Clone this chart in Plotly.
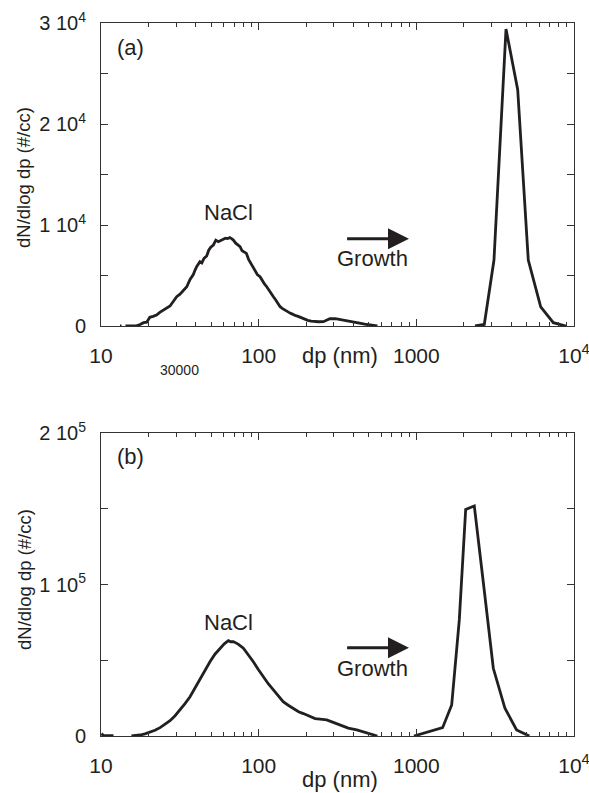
import math
import plotly.graph_objects as go

# ---------------- data ----------------
# Panel (a): NaCl mode (dp in nm, dN/dlog dp in #/cc); None = gap in record
a_nacl_dp = [13.2, 13.5, None, 14.3, 15.5, 16.8, 17.7, 18.6, 19.5, 20.4, 21.4, 22.5, 23.6, 24.8, 26.0,
             27.4, 28.8, 30.2, 31.7, 33.3, 35.0, 36.7, 38.5, 39.5, 40.5, 42.4, 43.6, 45.0, 46.8,
             48.2, 49.7, 51.6, 53.5, 55.5, 57.5, 59.5, 61.5, 63.5, 65.5, 67.3, 69.1, 71.5, 73.8,
             76.2, 78.5, 81.0, 83.6, 86.3, 89.0, 92.5, 95.0, 98.0, 102, 105, 108.5, 112.5, 116,
             120, 124, 128, 132, 136.8, 141, 145.5, 150.8, 155.5, 160, 166, 172, 178, 183, 190,
             197, 205, 215, 227, 240, 257, 270, 283, 306, 330, 360, 390, 419, 470, 520, 566]
a_nacl_n = [0, 0, None, 0, 0, 20, 150, 330, 380, 860, 950, 1090, 1350, 1580, 1750,
            1980, 2450, 2900, 3150, 3500, 3890, 4600, 5100, 5540, 5900, 6370, 6250, 6700, 6930,
            7500, 7800, 8020, 8500, 8350, 8450, 8550, 8700, 8650, 8750, 8650, 8510, 8200, 8000,
            7850, 7450, 7300, 7190, 6600, 6200, 5710, 5500, 5100, 4880, 4500, 4200, 3890, 3550,
            3200, 2900, 2600, 2300, 1910, 1750, 1600, 1420, 1350, 1250, 1090, 1020, 950, 860, 780,
            650, 560, 480, 430, 420, 430, 600, 720, 720, 640, 520, 420, 330, 180, 80, 0]
# Panel (a): grown droplet mode
a_grow_dp = [2356, 2698, 3108, 3705, 4395, 5129, 6150, 7393, 8896]
a_grow_n = [0, 150, 6530, 29400, 23400, 6530, 1900, 330, 0]

# Panel (b): NaCl mode
b_nacl_dp = [10.05, 10.4, 11.0, 12.0, None, 15.6, 16.5, 17.7, 19.0, 20.4, 22.0, 23.7, 25.5, 27.4,
             29.5, 31.7, 34.1, 36.7, 39.5, 42.4, 45.6, 49.1, 52.8, 56.8, 60.5, 64.3, 66.5, 69.1,
             74.5, 80.0, 86.0, 92.5, 99.5, 107, 115, 124, 133, 143, 154, 166, 179, 192, 211, 228,
             245, 270, 300, 327, 370, 419, 490, 566]
b_nacl_n = [1500, 300, 200, 200, None, 0, 200, 660, 1400, 2400, 3800, 5500, 7600, 10100,
            13400, 17200, 21400, 25900, 31800, 38100, 43400, 49000, 54000, 57900, 60800, 62900, 62200, 62300,
            60500, 57900, 53800, 49000, 43900, 39100, 34500, 30400, 26300, 22600, 20300, 18300, 16000, 14800, 12800, 11500,
            11200, 10600, 8800, 7300, 5200, 4000, 2000, 0]
# Panel (b): grown droplet mode
b_grow_dp = [966, 1468, 1676, 1873, 2056, 2332, 2680, 3078, 3648, 4325, 5208]
b_grow_n = [0, 5500, 20500, 76600, 149600, 151800, 98500, 44700, 18300, 4000, 0]

# tick labels
x_tickvals = [10, 100, 1000, 10000]
x_ticktext = ["10", "100", "1000", "10<sup>4</sup>"]
x_minor = [m * d for d in (10, 100, 1000) for m in range(2, 10)]
ya_tickvals = [0, 5000, 10000, 15000, 20000, 25000, 30000]
ya_ticktext = ["0", "", "1 10<sup>4</sup>", "", "2 10<sup>4</sup>", "", "3 10<sup>4</sup>"]
yb_tickvals = [0, 50000, 100000, 150000, 200000]
yb_ticktext = ["0", "", "1 10<sup>5</sup>", "", "2 10<sup>5</sup>"]

# ---------------- figure ----------------
W, H = 589, 793
ML, MR, MT, MB = 101, 15, 23, 57
LINE = "#231f20"
FONT = "Liberation Sans, Arial, sans-serif"

fig = go.Figure()
fig.add_trace(go.Scatter(x=a_nacl_dp, y=a_nacl_n, mode="lines", line=dict(color=LINE, width=2.8),
                         xaxis="x", yaxis="y", connectgaps=False))
fig.add_trace(go.Scatter(x=a_grow_dp, y=a_grow_n, mode="lines", line=dict(color=LINE, width=2.8),
                         xaxis="x", yaxis="y"))
fig.add_trace(go.Scatter(x=b_nacl_dp, y=b_nacl_n, mode="lines", line=dict(color=LINE, width=2.8),
                         xaxis="x2", yaxis="y2", connectgaps=False))
fig.add_trace(go.Scatter(x=b_grow_dp, y=b_grow_n, mode="lines", line=dict(color=LINE, width=2.8),
                         xaxis="x2", yaxis="y2"))

XR = [math.log10(9.9995), math.log10(10000.5)]

def xax(anchor):
    return dict(type="log", range=XR, anchor=anchor, tickmode="array", automargin=False,
                tickvals=x_tickvals, ticktext=x_ticktext, ticks="inside", ticklen=7,
                tickcolor="#333", tickwidth=1, showline=True, linecolor="#333", linewidth=1,
                mirror="ticks", showgrid=False, zeroline=False, ticklabelstandoff=11,
                ticklabeloverflow="allow",
                tickfont=dict(size=21, color="#231f20", family=FONT),
                minor=dict(tickvals=x_minor, ticks="inside", ticklen=4, tickcolor="#333",
                           tickwidth=1, showgrid=False))

def yax(anchor, rng, tv, tt, dom):
    return dict(range=rng, anchor=anchor, domain=dom, tickmode="array", tickvals=tv, ticktext=tt,
                automargin=False,
                ticks="inside", ticklen=7, tickcolor="#333", tickwidth=1, showline=True,
                linecolor="#333", linewidth=1, mirror="ticks", showgrid=False, zeroline=False,
                ticklabelstandoff=10, tickfont=dict(size=20, color="#231f20", family=FONT))

ph = H - MT - MB
top_dom = [(H - MB - 326) / ph, 1.0]
bot_dom = [0.0, (H - MB - 433) / ph]

fig.update_layout(
    width=W, height=H, margin=dict(l=ML, r=MR, t=MT, b=MB, autoexpand=False),
    paper_bgcolor="white", plot_bgcolor="white", showlegend=False,
    font=dict(family=FONT, color="#231f20", size=21),
    xaxis=xax("y"), xaxis2=xax("y2"),
    yaxis=yax("x", [0, 30000], ya_tickvals, ya_ticktext, top_dom),
    yaxis2=yax("x2", [0, 200000], yb_tickvals, yb_ticktext, bot_dom),
)

def px2paper(px, py):
    return (px - ML) / (W - ML - MR), (H - MB - py) / ph

anns = []
for xr, yr, x, y, t in [("x", "y", 15.3, 27600, "(a)"), ("x", "y", 64, 11200, "NaCl"),
                        ("x", "y", 531, 6700, "Growth"),
                        ("x2", "y2", 15.3, 184400, "(b)"), ("x2", "y2", 64, 74800, "NaCl"),
                        ("x2", "y2", 531, 44700, "Growth")]:
    anns.append(dict(xref=xr, yref=yr, x=math.log10(x), y=y, text=t, showarrow=False,
                     font=dict(size=22, family=FONT, color="#231f20"),
                     xanchor="center", yanchor="middle"))
for xr, yr, y in [("x", "y", 8640), ("x2", "y2", 58300)]:
    anns.append(dict(xref=xr, yref=yr, axref=xr, ayref=yr, x=math.log10(898), y=y,
                     ax=math.log10(356), ay=y, text="", showarrow=True, arrowhead=2,
                     arrowsize=1.4, arrowwidth=3, arrowcolor="#231f20"))
for (px, py), t, ang, sz in [((340, 355), "dp (nm)", 0, 22), ((340, 780), "dp (nm)", 0, 22),
                             ((24, 178), "dN/dlog dp (#/cc)", -90, 18.5),
                             ((24, 580), "dN/dlog dp (#/cc)", -90, 18.5),
                             ((179, 370), "30000", 0, 14)]:
    xp, yp = px2paper(px, py)
    anns.append(dict(xref="paper", yref="paper", x=xp, y=yp, text=t, showarrow=False,
                     textangle=ang, font=dict(size=sz, family=FONT, color="#231f20"),
                     xanchor="center", yanchor="middle"))
fig.update_layout(annotations=anns)

fig.write_html("out.html")
